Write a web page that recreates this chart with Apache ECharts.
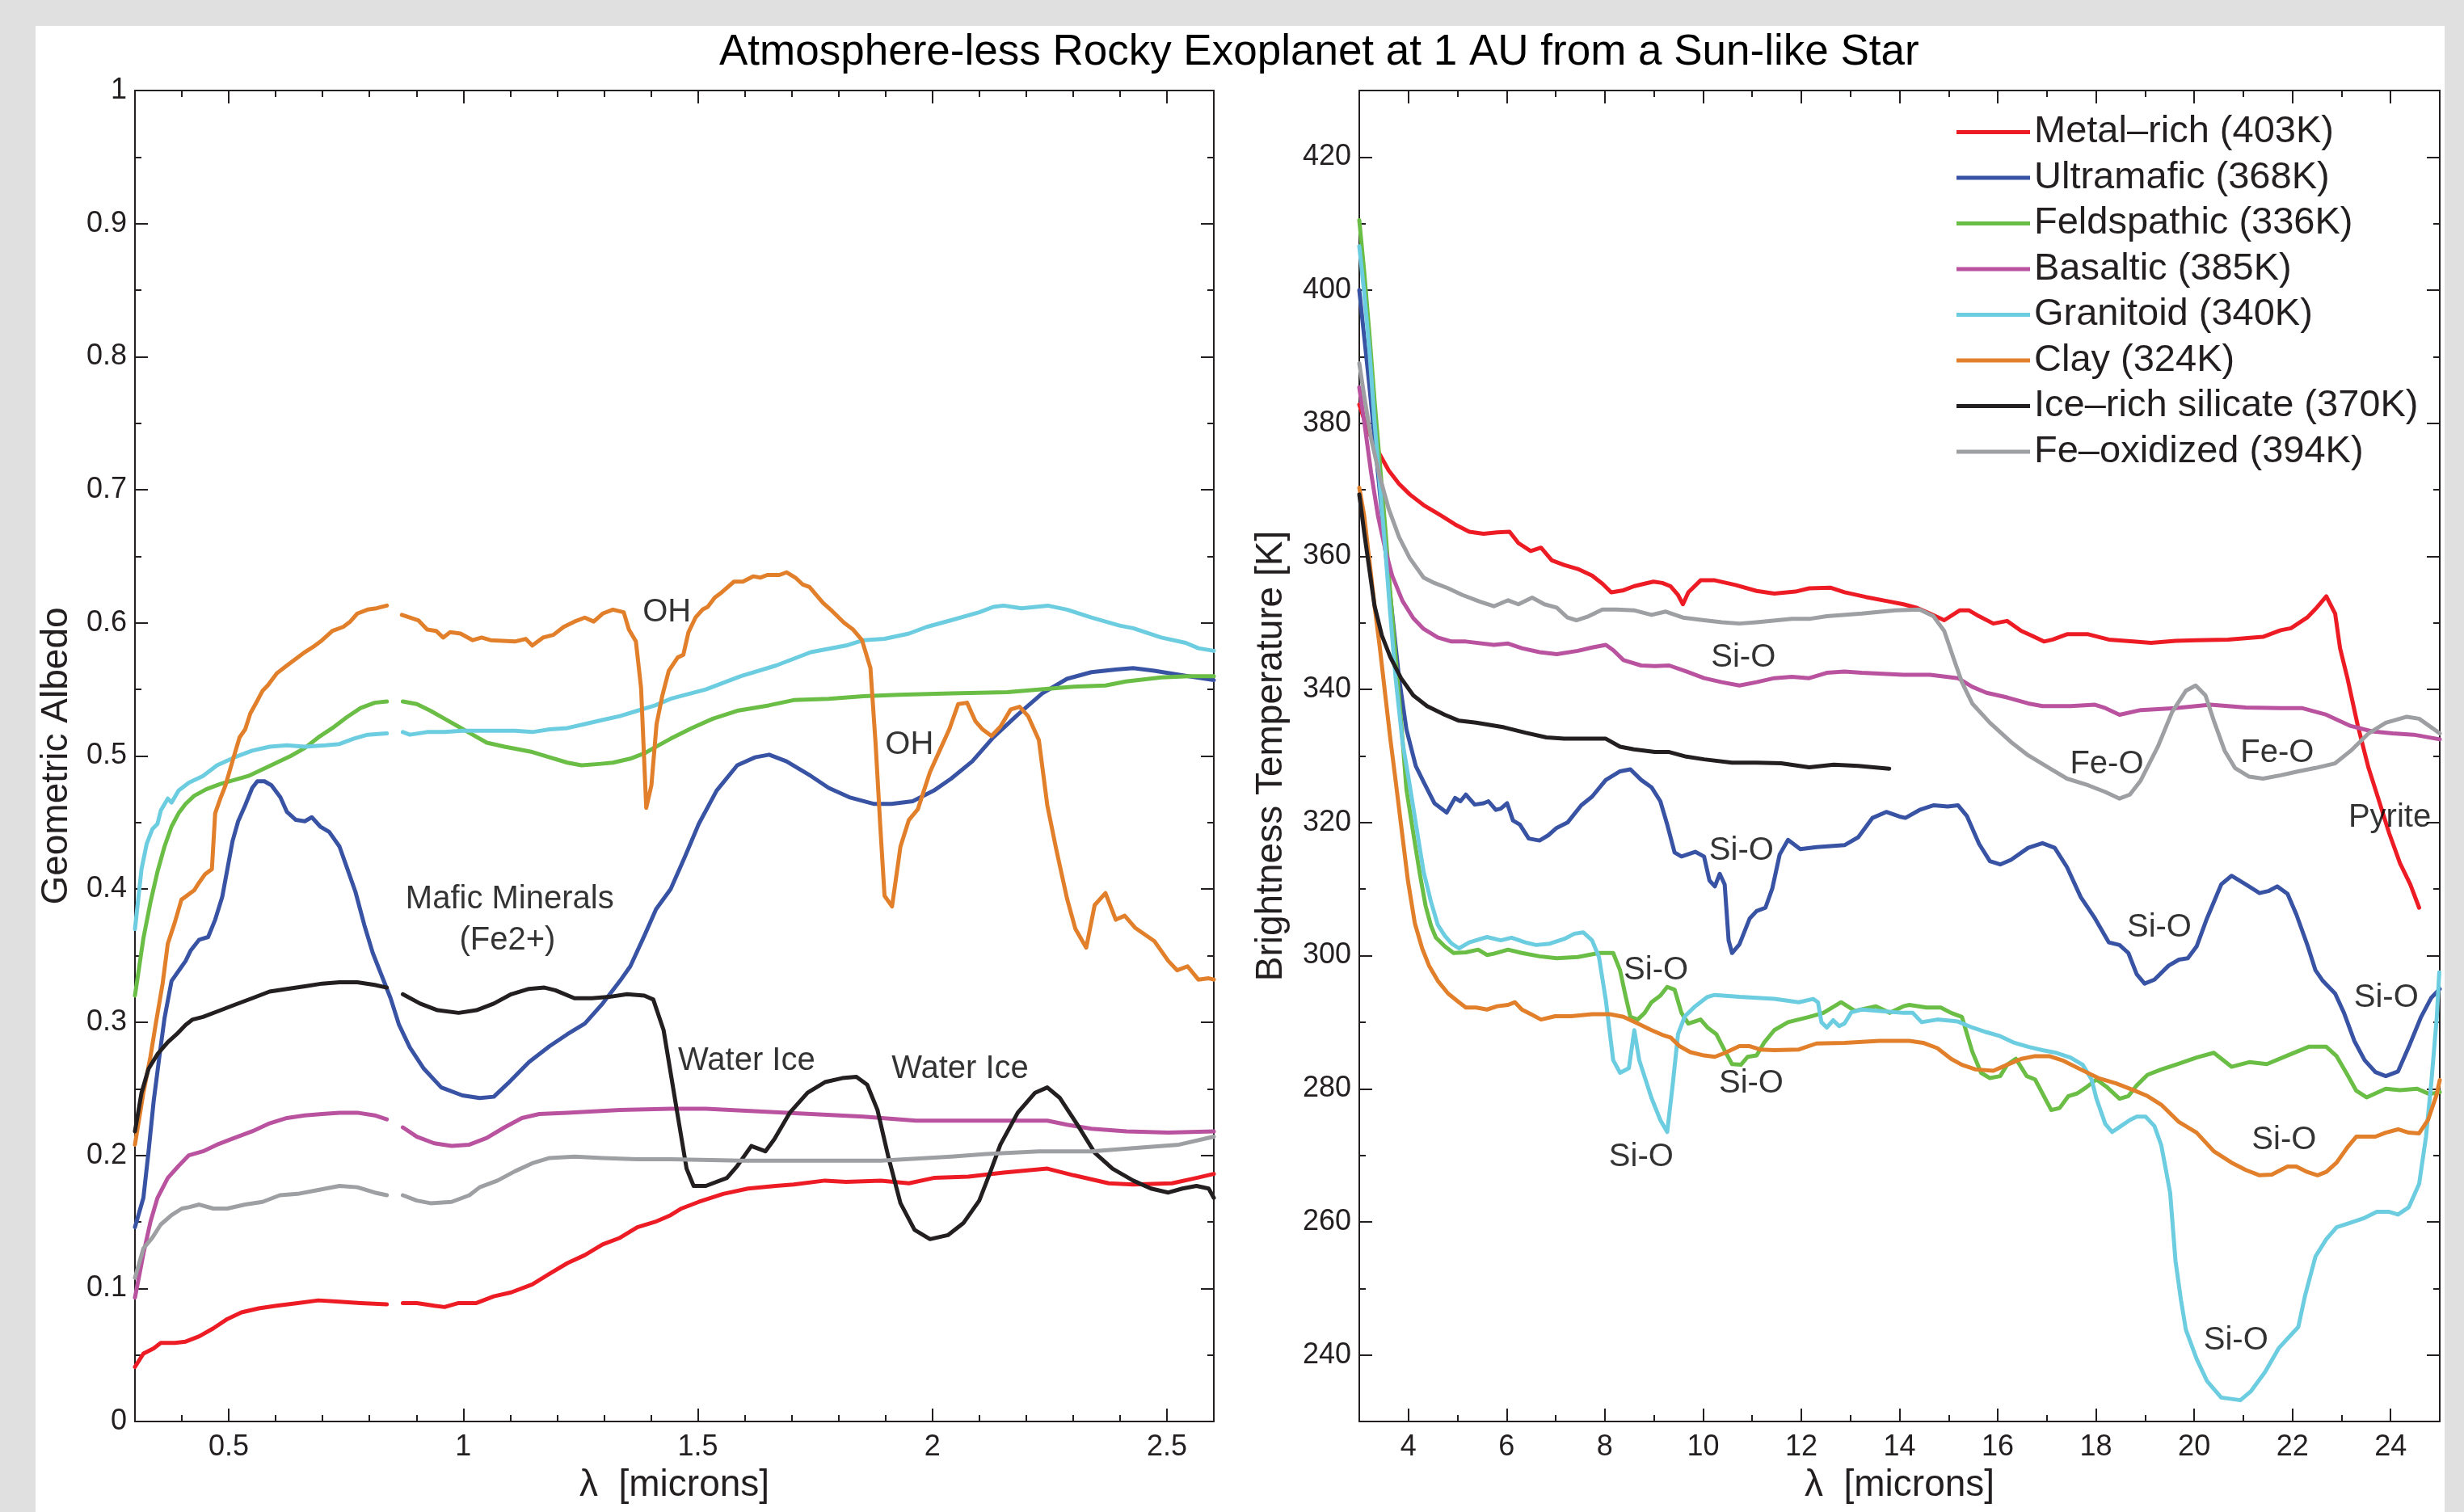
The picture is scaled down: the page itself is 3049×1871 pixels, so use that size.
<!DOCTYPE html>
<html>
<head>
	<meta charset="utf-8">
	<title>Atmosphere-less Rocky Exoplanet</title>
	<style>
		html, body { margin: 0; padding: 0; background: #e0e0e0; }
		#paper { position: absolute; left: 44px; top: 32px; width: 2981px; height: 1839px; background: #fff; }
		#main { position: absolute; left: 0; top: 0; width: 3049px; height: 1871px; }
	</style>
	<script src="https://cdn.jsdelivr.net/npm/echarts@6/dist/echarts.min.js"></script>
</head>
<body>
<div id="paper"></div>
<div id="main"></div>
<script>
	// 图例名称 / 颜色
	var names = ['Metal–rich (403K)', 'Ultramafic (368K)', 'Feldspathic (336K)', 'Basaltic (385K)',
		'Granitoid (340K)', 'Clay (324K)', 'Ice–rich silicate (370K)', 'Fe–oxidized (394K)']
	var colors = ['#ed1c24', '#3953a4', '#6abd45', '#b9529f', '#6dcde0', '#e27f2b', '#231f20', '#9d9fa2']

	// 刻度
	var albedoXTicks = [0.5, 1, 1.5, 2, 2.5]
	var albedoYTicks = [0, 0.1, 0.2, 0.3, 0.4, 0.5, 0.6, 0.7, 0.8, 0.9, 1]
	var tempXTicks = [4, 6, 8, 10, 12, 14, 16, 18, 20, 22, 24]
	var tempYTicks = [240, 260, 280, 300, 320, 340, 360, 380, 400, 420]

	// 左图: geometric albedo, [lambda, albedo], null = gap
	var redA = [[0.30,0.041],[0.318,0.051],[0.34,0.055],[0.355,0.059],[0.385,0.059],[0.408,0.060],[0.437,0.064],[0.467,0.070],[0.497,0.077],[0.527,0.082],[0.564,0.085],[0.602,0.087],[0.647,0.089],[0.691,0.091],[0.736,0.090],[0.781,0.089],[0.837,0.088],[0.853,null],[0.871,0.089],[0.901,0.089],[0.938,0.087],[0.960,0.086],[0.990,0.089],[1.028,0.089],[1.065,0.094],[1.102,0.097],[1.147,0.103],[1.184,0.111],[1.222,0.119],[1.259,0.125],[1.297,0.133],[1.334,0.138],[1.371,0.146],[1.409,0.150],[1.442,0.155],[1.465,0.160],[1.502,0.165],[1.554,0.171],[1.607,0.175],[1.666,0.177],[1.704,0.178],[1.771,0.181],[1.816,0.180],[1.890,0.181],[1.950,0.179],[2.003,0.183],[2.077,0.184],[2.152,0.187],[2.245,0.190],[2.301,0.185],[2.376,0.179],[2.428,0.178],[2.511,0.179],[2.563,0.183],[2.60,0.186]]
	var blueA = [[0.30,0.146],[0.318,0.168],[0.329,0.203],[0.340,0.241],[0.352,0.274],[0.363,0.303],[0.378,0.331],[0.396,0.340],[0.408,0.346],[0.419,0.354],[0.437,0.362],[0.456,0.364],[0.471,0.377],[0.486,0.394],[0.497,0.415],[0.508,0.436],[0.520,0.451],[0.535,0.463],[0.550,0.476],[0.561,0.481],[0.576,0.481],[0.591,0.478],[0.610,0.469],[0.624,0.458],[0.643,0.452],[0.662,0.451],[0.677,0.454],[0.695,0.447],[0.714,0.443],[0.736,0.432],[0.751,0.417],[0.770,0.398],[0.789,0.373],[0.807,0.352],[0.826,0.335],[0.845,0.318],[0.863,0.298],[0.886,0.281],[0.916,0.265],[0.953,0.251],[0.998,0.245],[1.035,0.243],[1.065,0.244],[1.095,0.254],[1.140,0.270],[1.184,0.282],[1.222,0.291],[1.259,0.299],[1.297,0.314],[1.334,0.331],[1.356,0.342],[1.386,0.365],[1.411,0.385],[1.442,0.400],[1.472,0.424],[1.502,0.449],[1.540,0.474],[1.584,0.493],[1.622,0.499],[1.652,0.501],[1.689,0.496],[1.741,0.485],[1.779,0.476],[1.823,0.469],[1.876,0.464],[1.913,0.464],[1.958,0.466],[2.003,0.474],[2.040,0.483],[2.085,0.496],[2.130,0.514],[2.182,0.531],[2.234,0.547],[2.287,0.558],[2.339,0.563],[2.391,0.565],[2.428,0.566],[2.473,0.564],[2.526,0.561],[2.60,0.557]]
	var greenA = [[0.30,0.320],[0.318,0.363],[0.333,0.390],[0.348,0.413],[0.363,0.432],[0.378,0.447],[0.393,0.457],[0.408,0.464],[0.426,0.470],[0.452,0.475],[0.482,0.479],[0.512,0.482],[0.542,0.485],[0.572,0.490],[0.602,0.495],[0.632,0.500],[0.662,0.506],[0.691,0.514],[0.721,0.521],[0.751,0.529],[0.781,0.536],[0.811,0.540],[0.837,0.541],[0.853,null],[0.871,0.541],[0.901,0.539],[0.930,0.534],[0.960,0.528],[0.990,0.522],[1.020,0.516],[1.050,0.510],[1.088,0.507],[1.147,0.503],[1.184,0.499],[1.222,0.495],[1.252,0.493],[1.289,0.494],[1.319,0.495],[1.356,0.498],[1.386,0.502],[1.416,0.508],[1.442,0.513],[1.487,0.521],[1.532,0.528],[1.584,0.534],[1.651,0.538],[1.704,0.542],[1.779,0.543],[1.853,0.545],[1.928,0.546],[2.040,0.547],[2.160,0.548],[2.227,0.550],[2.301,0.552],[2.369,0.553],[2.413,0.556],[2.488,0.559],[2.548,0.560],[2.60,0.560]]
	var magentaA = [[0.30,0.093],[0.318,0.126],[0.333,0.150],[0.348,0.168],[0.370,0.183],[0.393,0.192],[0.415,0.200],[0.445,0.203],[0.475,0.208],[0.512,0.213],[0.550,0.218],[0.587,0.224],[0.624,0.228],[0.662,0.230],[0.699,0.231],[0.736,0.232],[0.774,0.232],[0.811,0.230],[0.837,0.227],[0.853,null],[0.871,0.221],[0.901,0.214],[0.938,0.209],[0.975,0.207],[1.013,0.208],[1.050,0.213],[1.088,0.221],[1.125,0.228],[1.162,0.231],[1.222,0.232],[1.334,0.234],[1.442,0.235],[1.517,0.235],[1.629,0.233],[1.741,0.231],[1.853,0.229],[1.965,0.226],[2.115,0.226],[2.245,0.226],[2.287,0.223],[2.339,0.220],[2.414,0.218],[2.503,0.217],[2.60,0.218]]
	var cyanA = [[0.30,0.370],[0.314,0.415],[0.325,0.434],[0.337,0.445],[0.348,0.449],[0.355,0.459],[0.370,0.468],[0.378,0.465],[0.393,0.474],[0.415,0.480],[0.445,0.485],[0.475,0.493],[0.512,0.499],[0.550,0.504],[0.587,0.507],[0.624,0.508],[0.662,0.507],[0.706,0.508],[0.736,0.509],[0.766,0.513],[0.796,0.516],[0.837,0.517],[0.853,null],[0.871,0.518],[0.886,0.516],[0.923,0.518],[0.960,0.518],[0.998,0.519],[1.035,0.519],[1.110,0.519],[1.147,0.518],[1.184,0.520],[1.222,0.521],[1.259,0.524],[1.296,0.527],[1.334,0.530],[1.371,0.534],[1.409,0.538],[1.442,0.543],[1.517,0.550],[1.592,0.560],[1.667,0.568],[1.704,0.573],[1.741,0.578],[1.816,0.583],[1.853,0.587],[1.898,0.588],[1.950,0.592],[1.988,0.597],[2.040,0.602],[2.100,0.608],[2.130,0.612],[2.152,0.613],[2.190,0.611],[2.246,0.613],[2.287,0.610],[2.339,0.604],[2.399,0.598],[2.428,0.596],[2.488,0.589],[2.540,0.585],[2.567,0.581],[2.60,0.579]]
	var orangeA = [[0.30,0.208],[0.318,0.247],[0.333,0.274],[0.344,0.298],[0.359,0.329],[0.370,0.359],[0.385,0.375],[0.399,0.392],[0.426,0.399],[0.437,0.405],[0.449,0.411],[0.464,0.415],[0.471,0.457],[0.482,0.468],[0.493,0.478],[0.512,0.501],[0.523,0.514],[0.535,0.520],[0.546,0.532],[0.557,0.539],[0.572,0.549],[0.583,0.553],[0.602,0.562],[0.624,0.568],[0.639,0.572],[0.662,0.578],[0.680,0.582],[0.699,0.587],[0.721,0.594],[0.744,0.597],[0.759,0.601],[0.774,0.607],[0.796,0.610],[0.815,0.611],[0.837,0.613],[0.853,null],[0.869,0.606],[0.904,0.602],[0.923,0.595],[0.942,0.594],[0.957,0.589],[0.972,0.593],[0.994,0.592],[1.020,0.587],[1.039,0.589],[1.058,0.587],[1.110,0.586],[1.133,0.588],[1.147,0.583],[1.170,0.589],[1.192,0.591],[1.214,0.597],[1.237,0.601],[1.259,0.604],[1.278,0.601],[1.297,0.607],[1.319,0.610],[1.342,0.608],[1.353,0.595],[1.368,0.586],[1.379,0.551],[1.390,0.461],[1.401,0.478],[1.412,0.524],[1.424,0.545],[1.438,0.564],[1.457,0.574],[1.469,0.576],[1.480,0.593],[1.495,0.604],[1.510,0.610],[1.521,0.612],[1.536,0.619],[1.551,0.623],[1.577,0.631],[1.596,0.631],[1.618,0.635],[1.633,0.634],[1.648,0.636],[1.674,0.636],[1.689,0.638],[1.708,0.634],[1.723,0.629],[1.738,0.627],[1.767,0.615],[1.786,0.609],[1.812,0.600],[1.831,0.595],[1.850,0.587],[1.868,0.566],[1.879,0.509],[1.889,0.447],[1.898,0.395],[1.914,0.387],[1.932,0.432],[1.950,0.452],[1.969,0.460],[1.995,0.488],[2.018,0.506],[2.036,0.520],[2.055,0.539],[2.074,0.540],[2.092,0.526],[2.107,0.520],[2.126,0.515],[2.145,0.522],[2.167,0.535],[2.186,0.537],[2.204,0.530],[2.227,0.512],[2.245,0.463],[2.264,0.430],[2.287,0.393],[2.305,0.370],[2.328,0.356],[2.346,0.388],[2.369,0.397],[2.391,0.377],[2.410,0.380],[2.432,0.371],[2.473,0.361],[2.503,0.346],[2.522,0.339],[2.544,0.342],[2.567,0.332],[2.589,0.333],[2.60,0.332]]
	var blackA = [[0.30,0.218],[0.314,0.247],[0.329,0.265],[0.348,0.276],[0.370,0.285],[0.389,0.291],[0.408,0.298],[0.423,0.302],[0.445,0.304],[0.475,0.308],[0.512,0.313],[0.550,0.318],[0.587,0.323],[0.624,0.325],[0.662,0.327],[0.699,0.329],[0.736,0.330],[0.774,0.330],[0.811,0.328],[0.837,0.326],[0.853,null],[0.871,0.321],[0.908,0.314],[0.945,0.309],[0.990,0.307],[1.028,0.309],[1.065,0.314],[1.102,0.321],[1.140,0.325],[1.173,0.326],[1.196,0.324],[1.237,0.318],[1.274,0.318],[1.311,0.319],[1.349,0.321],[1.386,0.320],[1.405,0.317],[1.427,0.294],[1.442,0.262],[1.457,0.230],[1.476,0.190],[1.491,0.177],[1.517,0.177],[1.562,0.183],[1.584,0.192],[1.614,0.207],[1.644,0.203],[1.663,0.212],[1.696,0.232],[1.734,0.247],[1.771,0.255],[1.808,0.258],[1.838,0.259],[1.861,0.253],[1.883,0.234],[1.906,0.199],[1.932,0.164],[1.962,0.144],[1.995,0.137],[2.033,0.140],[2.066,0.149],[2.100,0.166],[2.122,0.186],[2.145,0.208],[2.182,0.232],[2.219,0.247],[2.245,0.251],[2.272,0.243],[2.309,0.223],[2.346,0.202],[2.384,0.190],[2.428,0.181],[2.466,0.175],[2.503,0.172],[2.533,0.175],[2.563,0.177],[2.589,0.175],[2.60,0.168]]
	var grayA = [[0.30,0.108],[0.318,0.130],[0.337,0.138],[0.355,0.148],[0.378,0.155],[0.400,0.160],[0.415,0.161],[0.437,0.163],[0.467,0.160],[0.497,0.160],[0.535,0.163],[0.572,0.165],[0.609,0.170],[0.647,0.171],[0.691,0.174],[0.736,0.177],[0.774,0.176],[0.811,0.172],[0.837,0.170],[0.853,null],[0.871,0.170],[0.901,0.166],[0.930,0.164],[0.975,0.165],[1.013,0.170],[1.035,0.176],[1.073,0.181],[1.110,0.188],[1.147,0.194],[1.184,0.198],[1.237,0.199],[1.297,0.198],[1.371,0.197],[1.442,0.197],[1.592,0.196],[1.741,0.196],[1.890,0.196],[2.040,0.199],[2.115,0.201],[2.227,0.203],[2.339,0.203],[2.451,0.206],[2.526,0.208],[2.60,0.214]]

	// 右图: brightness temperature, [lambda, K]
	var redT = [[3.0,382.8],[3.17,379.0],[3.38,375.8],[3.60,372.9],[3.81,370.9],[4.03,369.3],[4.31,367.7],[4.67,366.1],[4.95,364.8],[5.24,363.7],[5.53,363.4],[5.81,363.6],[6.06,363.7],[6.24,362.0],[6.49,360.8],[6.70,361.3],[6.92,359.4],[7.17,358.7],[7.45,358.1],[7.74,357.1],[7.95,355.9],[8.13,354.6],[8.38,354.9],[8.59,355.5],[8.81,355.9],[8.99,356.2],[9.17,356.0],[9.34,355.5],[9.49,354.2],[9.59,352.8],[9.70,354.6],[9.95,356.4],[10.24,356.4],[10.66,355.7],[11.09,354.8],[11.45,354.4],[11.88,354.7],[12.16,355.2],[12.59,355.3],[12.88,354.6],[13.31,353.9],[13.73,353.3],[14.08,352.8],[14.34,352.3],[14.62,351.4],[14.91,350.4],[15.23,351.9],[15.41,351.9],[15.62,351.0],[15.91,349.9],[16.19,350.3],[16.48,348.8],[16.69,348.1],[16.94,347.2],[17.12,347.5],[17.41,348.3],[17.84,348.3],[18.26,347.5],[18.76,347.2],[19.12,347.0],[19.62,347.3],[20.05,347.4],[20.69,347.5],[21.19,347.8],[21.40,347.9],[21.76,348.9],[21.97,349.2],[22.30,350.8],[22.47,352.1],[22.69,354.0],[22.87,351.4],[22.97,346.2],[23.12,341.7],[23.33,334.6],[23.55,328.2],[23.74,323.8],[23.97,318.4],[24.19,313.9],[24.40,310.7],[24.58,307.2]]
	var blueT = [[3.0,400.0],[3.2,386.0],[3.4,371.0],[3.53,361.0],[3.67,351.4],[3.81,341.7],[3.96,334.0],[4.15,328.5],[4.31,326.1],[4.53,322.9],[4.78,321.5],[4.95,323.7],[5.06,323.2],[5.17,324.2],[5.35,322.7],[5.53,322.9],[5.63,323.2],[5.78,321.9],[5.88,322.1],[6.01,322.9],[6.13,320.3],[6.27,319.7],[6.45,317.6],[6.67,317.3],[6.85,318.1],[7.02,319.2],[7.24,320.0],[7.52,322.6],[7.74,323.9],[8.02,326.4],[8.31,327.7],[8.52,328.0],[8.74,326.4],[8.95,325.3],[9.13,323.2],[9.27,319.7],[9.42,315.5],[9.56,314.9],[9.84,315.6],[10.02,314.9],[10.13,311.3],[10.24,310.4],[10.34,312.3],[10.44,310.7],[10.52,302.3],[10.59,300.4],[10.74,301.7],[10.95,305.6],[11.09,306.7],[11.27,307.2],[11.41,310.1],[11.56,315.2],[11.73,317.4],[11.98,316.0],[12.31,316.3],[12.88,316.6],[13.16,317.8],[13.45,320.7],[13.73,321.6],[14.00,320.9],[14.12,320.7],[14.41,321.9],[14.70,322.6],[14.98,322.4],[15.19,322.6],[15.37,321.0],[15.62,316.8],[15.84,314.2],[16.05,313.7],[16.27,314.4],[16.62,316.2],[16.91,316.9],[17.16,316.2],[17.41,313.3],[17.69,308.8],[17.98,305.6],[18.26,302.0],[18.48,301.6],[18.66,300.4],[18.83,297.2],[18.99,295.8],[19.19,296.4],[19.48,298.5],[19.69,299.4],[19.87,299.6],[20.05,301.4],[20.26,305.6],[20.55,310.7],[20.76,312.0],[21.05,310.7],[21.33,309.4],[21.51,309.7],[21.69,310.4],[21.90,309.3],[22.08,306.2],[22.30,301.7],[22.47,297.8],[22.62,296.2],[22.87,294.3],[23.05,291.4],[23.26,287.2],[23.47,284.3],[23.69,282.5],[23.90,281.9],[24.15,282.6],[24.37,286.3],[24.62,290.8],[24.83,293.7],[25.0,295.0]]
	var greenT = [[3.0,410.5],[3.10,402.8],[3.21,393.1],[3.31,383.5],[3.42,373.9],[3.53,364.2],[3.63,354.6],[3.74,344.9],[3.85,335.3],[3.96,325.0],[4.13,317.0],[4.24,312.0],[4.35,307.5],[4.46,304.5],[4.56,302.7],[4.74,301.4],[4.92,300.4],[5.17,300.5],[5.42,300.9],[5.60,300.1],[5.74,300.3],[6.03,300.9],[6.31,300.4],[6.67,299.9],[7.02,299.6],[7.45,299.8],[7.88,300.4],[8.17,300.4],[8.31,297.8],[8.42,294.0],[8.52,290.8],[8.67,290.4],[8.81,291.4],[8.95,293.0],[9.13,294.0],[9.27,295.3],[9.42,294.9],[9.56,291.4],[9.70,289.8],[9.95,290.4],[10.09,289.2],[10.27,288.2],[10.45,285.6],[10.59,283.7],[10.77,283.6],[10.91,284.8],[11.09,285.0],[11.24,286.9],[11.45,288.8],[11.73,290.0],[12.16,290.8],[12.45,291.4],[12.81,293.0],[13.09,291.7],[13.52,292.4],[13.80,291.4],[14.08,292.4],[14.20,292.6],[14.55,292.2],[14.84,292.2],[15.05,291.4],[15.27,290.8],[15.48,285.6],[15.66,282.4],[15.84,281.6],[16.05,281.9],[16.19,283.6],[16.37,284.5],[16.59,281.9],[16.76,281.4],[17.09,276.8],[17.26,277.1],[17.44,278.9],[17.62,279.3],[17.80,280.2],[18.01,281.4],[18.23,280.2],[18.48,278.5],[18.66,278.9],[18.83,280.5],[19.05,282.1],[19.33,282.9],[19.62,283.6],[20.05,284.7],[20.40,285.4],[20.76,283.3],[21.12,284.0],[21.48,283.7],[21.90,285.0],[22.33,286.3],[22.69,286.3],[22.90,284.9],[23.12,282.1],[23.30,279.7],[23.51,278.7],[23.90,280.0],[24.19,279.8],[24.54,280.0],[24.79,279.2],[25.0,279.5]]
	var magentaT = [[3.0,385.4],[3.10,380.3],[3.24,372.6],[3.38,366.1],[3.53,361.0],[3.67,357.1],[3.88,353.3],[4.10,350.7],[4.31,349.1],[4.60,347.8],[4.88,347.2],[5.17,347.2],[5.74,346.7],[6.03,346.9],[6.31,346.2],[6.67,345.6],[7.02,345.3],[7.45,345.8],[7.74,346.3],[8.02,346.7],[8.17,345.9],[8.38,344.4],[8.74,343.6],[9.02,343.5],[9.31,343.6],[9.66,342.7],[10.02,341.7],[10.38,341.1],[10.74,340.6],[11.09,341.1],[11.45,341.7],[11.81,341.9],[12.16,341.7],[12.52,342.5],[12.88,342.7],[13.23,342.5],[14.08,342.2],[14.62,342.2],[15.19,341.7],[15.48,340.4],[15.77,339.5],[16.19,338.8],[16.62,337.9],[16.91,337.5],[17.48,337.5],[17.98,337.7],[18.19,337.2],[18.48,336.2],[18.91,336.9],[19.62,337.2],[20.33,337.7],[21.05,337.3],[21.76,337.2],[22.19,337.2],[22.69,336.2],[23.19,334.5],[23.62,333.7],[24.04,333.4],[24.47,333.2],[25.0,332.5]]
	var cyanT = [[3.0,406.6],[3.10,399.6],[3.21,390.6],[3.31,380.3],[3.42,370.6],[3.53,361.0],[3.63,351.4],[3.74,341.7],[3.88,332.1],[4.03,325.5],[4.17,319.0],[4.31,312.6],[4.46,308.1],[4.60,304.6],[4.74,303.0],[4.88,301.8],[5.03,301.1],[5.24,302.0],[5.60,302.8],[5.88,302.3],[6.10,302.7],[6.38,302.0],[6.60,301.6],[6.88,301.8],[7.17,302.5],[7.38,303.3],[7.56,303.5],[7.74,302.3],[7.88,299.8],[8.02,293.3],[8.17,284.3],[8.31,282.4],[8.49,283.1],[8.60,288.8],[8.70,284.3],[8.95,278.6],[9.13,275.3],[9.27,273.5],[9.38,280.5],[9.49,288.2],[9.63,290.9],[9.84,292.4],[10.09,293.8],[10.24,294.1],[10.74,293.8],[11.45,293.5],[11.95,293.0],[12.24,293.5],[12.34,293.0],[12.41,290.0],[12.52,289.2],[12.65,290.3],[12.77,289.4],[12.88,289.8],[13.02,291.5],[13.23,291.9],[13.59,291.7],[14.08,291.4],[14.27,291.4],[14.45,290.0],[14.77,290.4],[15.19,290.1],[15.48,289.2],[15.77,288.5],[16.05,287.9],[16.34,286.9],[16.62,286.3],[16.91,285.8],[17.19,285.4],[17.48,284.7],[17.73,283.6],[17.91,281.4],[18.01,278.5],[18.19,274.7],[18.33,273.5],[18.51,274.4],[18.69,275.3],[18.83,275.8],[19.01,275.8],[19.19,274.4],[19.33,271.5],[19.51,264.4],[19.62,254.1],[19.73,248.3],[19.83,243.8],[20.05,239.4],[20.26,236.1],[20.55,233.6],[20.94,233.2],[21.15,234.5],[21.44,237.4],[21.72,241.0],[22.12,244.2],[22.26,249.0],[22.47,254.8],[22.69,257.4],[22.90,259.2],[23.19,259.9],[23.47,260.6],[23.72,261.5],[23.97,261.5],[24.15,261.1],[24.37,262.2],[24.58,265.7],[24.72,272.8],[24.83,281.1],[24.94,290.8],[24.99,297.5]]
	var orangeT = [[3.0,370.3],[3.10,366.1],[3.21,359.1],[3.31,352.6],[3.42,346.2],[3.53,339.1],[3.63,332.7],[3.74,326.3],[3.85,319.7],[3.99,311.3],[4.13,304.9],[4.28,301.1],[4.42,298.5],[4.60,296.2],[4.81,294.3],[5.03,293.0],[5.17,292.2],[5.38,292.2],[5.60,291.9],[5.81,292.4],[6.03,292.6],[6.17,293.0],[6.31,291.9],[6.52,291.1],[6.70,290.4],[6.99,290.9],[7.31,290.9],[7.74,291.2],[8.10,291.2],[8.38,290.8],[8.67,289.8],[8.95,288.8],[9.17,288.1],[9.34,287.7],[9.52,286.4],[9.74,285.5],[10.02,285.0],[10.24,284.8],[10.45,285.4],[10.74,286.4],[10.95,286.4],[11.16,285.9],[11.45,285.8],[11.95,285.9],[12.31,286.8],[12.88,286.9],[13.59,287.2],[14.20,287.2],[14.48,286.9],[14.77,286.1],[15.05,284.5],[15.27,283.6],[15.55,282.9],[15.91,282.7],[16.19,283.6],[16.48,284.5],[16.76,284.9],[17.05,284.9],[17.34,284.2],[17.69,282.9],[18.05,281.6],[18.41,280.8],[18.76,279.8],[19.05,278.9],[19.33,277.6],[19.69,275.0],[20.05,273.4],[20.40,270.6],[20.76,268.9],[21.05,267.8],[21.33,267.0],[21.58,267.1],[21.90,268.3],[22.08,268.3],[22.30,267.5],[22.51,267.0],[22.69,267.5],[22.90,268.9],[23.12,271.2],[23.30,272.8],[23.69,272.8],[23.90,273.4],[24.15,273.9],[24.37,273.4],[24.58,273.3],[24.76,275.3],[24.94,279.2],[25.0,281.3]]
	var blackT = [[3.0,369.3],[3.10,363.6],[3.21,357.8],[3.31,352.6],[3.46,348.1],[3.63,344.9],[3.85,341.7],[4.10,339.1],[4.38,337.5],[4.74,336.2],[5.03,335.3],[5.38,335.0],[5.95,334.3],[6.38,333.5],[6.81,332.8],[7.17,332.6],[7.52,332.6],[8.02,332.6],[8.31,331.4],[8.59,331.0],[9.02,330.6],[9.31,330.6],[9.66,329.9],[10.02,329.5],[10.59,329.0],[11.09,329.0],[11.59,328.9],[12.16,328.3],[12.66,328.7],[13.16,328.5],[13.79,328.1]]
	var grayT = [[3.0,389.0],[3.10,384.1],[3.24,377.7],[3.42,371.9],[3.60,367.1],[3.81,362.9],[4.03,359.7],[4.31,356.8],[4.53,356.0],[4.81,355.2],[5.10,354.2],[5.45,353.2],[5.74,352.5],[6.03,353.4],[6.24,352.8],[6.52,353.8],[6.77,352.8],[7.02,352.3],[7.24,350.8],[7.42,350.4],[7.67,351.0],[7.95,352.0],[8.24,352.0],[8.59,351.9],[8.95,351.2],[9.24,351.7],[9.59,350.8],[10.02,350.4],[10.38,350.1],[10.74,349.9],[11.09,350.1],[11.81,350.6],[12.16,350.6],[12.52,351.0],[13.23,351.4],[13.91,351.9],[14.41,352.0],[14.69,351.0],[14.91,348.8],[15.09,344.9],[15.27,341.1],[15.48,337.9],[15.84,335.0],[16.27,332.1],[16.62,330.1],[16.98,328.5],[17.41,326.6],[17.84,325.6],[18.19,324.6],[18.48,323.6],[18.69,324.2],[18.91,326.3],[19.26,331.4],[19.55,336.6],[19.83,339.8],[20.03,340.6],[20.23,339.1],[20.40,335.3],[20.62,330.8],[20.83,328.2],[21.12,326.9],[21.40,326.6],[21.76,327.1],[22.12,327.7],[22.47,328.2],[22.87,328.9],[23.19,330.8],[23.55,333.4],[23.90,335.0],[24.33,335.9],[24.58,335.6],[24.83,334.3],[25.0,333.4]]

	// 注释文字 [lambda, value, text]
	var albedoNotes = [[1.434, 0.608, 'OH'], [1.951, 0.508, 'OH'], [1.099, 0.392, 'Mafic Minerals'], [1.094, 0.361, '(Fe2+)'],
		[1.604, 0.271, 'Water Ice'], [2.059, 0.265, 'Water Ice']]
	var tempNotes = [[10.82, 344.8, 'Si-O'], [18.22, 328.7, 'Fe-O'], [21.69, 330.4, 'Fe-O'], [23.98, 320.7, 'Pyrite'],
		[10.78, 315.7, 'Si-O'], [9.04, 297.8, 'Si-O'], [10.98, 280.8, 'Si-O'], [8.74, 269.7, 'Si-O'],
		[19.29, 304.2, 'Si-O'], [23.91, 293.6, 'Si-O'], [21.83, 272.3, 'Si-O'], [20.85, 242.1, 'Si-O']]

	var albedoSets = [redA, blueA, greenA, magentaA, cyanA, orangeA, blackA, grayA]
	var tempSets = [redT, blueT, greenT, magentaT, cyanT, orangeT, blackT, grayT]

	var FONT = '"Liberation Sans", Arial, Helvetica, sans-serif'
	var INK = '#231f20'

	function tickFmt(majors) {
		return function (v) {
			for (var i = 0; i < majors.length; i++) {
				if (Math.abs(majors[i] - v) < 1e-6) return String(majors[i])
			}
			return ''
		}
	}

	// 一组轴: 短刻度(带轴线和标签) + 长刻度(主刻度)
	function axisPair(gridIndex, position, min, max, step, majors, showLabel, name, nameGap) {
		var minor = {
			type: 'value', gridIndex: gridIndex, position: position, min: min, max: max, interval: step,
			axisLine: { show: true, onZero: false, lineStyle: { color: INK, width: 2 } },
			axisTick: { show: true, inside: true, length: 8, lineStyle: { color: INK, width: 2 } },
			axisLabel: { show: showLabel, margin: (position == 'bottom' ? 14 : 10), fontSize: 36, fontFamily: FONT, color: INK,
				formatter: tickFmt(majors), showMinLabel: true, showMaxLabel: true },
			splitLine: { show: false }
		}
		if (name) {
			minor.name = name
			minor.nameLocation = 'middle'
			minor.nameGap = nameGap
			minor.nameTextStyle = { fontSize: 46, fontFamily: FONT, color: INK }
		}
		var major = {
			type: 'value', gridIndex: gridIndex, position: position, min: min, max: max,
			axisLine: { show: false, onZero: false },
			axisTick: { show: true, inside: true, length: 16, customValues: majors, lineStyle: { color: INK, width: 2 } },
			axisLabel: { show: false },
			splitLine: { show: false }
		}
		return [minor, major]
	}

	var xAxes = [].concat(
		axisPair(0, 'bottom', 0.3, 2.6, 0.1, albedoXTicks, true, 'λ  [microns]', 56),
		axisPair(0, 'top', 0.3, 2.6, 0.1, albedoXTicks, false),
		axisPair(1, 'bottom', 3, 25, 1, tempXTicks, true, 'λ  [microns]', 56),
		axisPair(1, 'top', 3, 25, 1, tempXTicks, false)
	)
	var yAxes = [].concat(
		axisPair(0, 'left', 0, 1, 0.05, albedoYTicks, true, 'Geometric Albedo', 74),
		axisPair(0, 'right', 0, 1, 0.05, albedoYTicks, false),
		axisPair(1, 'left', 230, 430, 10, tempYTicks, true, 'Brightness Temperature [K]', 86),
		axisPair(1, 'right', 230, 430, 10, tempYTicks, false)
	)

	function toLine(d) {
		return d.map(function (p) { return [p[0], p[1] === null ? '-' : p[1]] })
	}

	var series = []
	for (var i = 0; i < names.length; i++) {
		series.push({
			name: names[i], type: 'line', xAxisIndex: 0, yAxisIndex: 0, data: toLine(albedoSets[i]),
			showSymbol: false, symbol: 'none', connectNulls: false,
			lineStyle: { color: colors[i], width: 5, join: 'round', cap: 'round' }, itemStyle: { color: colors[i] }
		})
	}
	for (var i = 0; i < names.length; i++) {
		series.push({
			name: names[i], type: 'line', xAxisIndex: 4, yAxisIndex: 4, data: toLine(tempSets[i]),
			showSymbol: false, symbol: 'none',
			lineStyle: { color: colors[i], width: 5, join: 'round', cap: 'round' }, itemStyle: { color: colors[i] }
		})
	}
	function noteSeries(notes, xi, yi) {
		return {
			type: 'scatter', xAxisIndex: xi, yAxisIndex: yi, silent: true, z: 5,
			symbolSize: 1, itemStyle: { color: 'rgba(0,0,0,0)' },
			data: notes.map(function (n) { return { name: n[2], value: [n[0], n[1]] } }),
			label: { show: true, position: 'inside', formatter: '{b}', fontSize: 40, fontFamily: FONT, color: '#000' }
		}
	}
	series.push(noteSeries(albedoNotes, 0, 0))
	series.push(noteSeries(tempNotes, 4, 4))

	var option = {
		animation: false,
		title: {
			text: 'Atmosphere-less Rocky Exoplanet at 1 AU from a Sun-like Star',
			left: 890, top: 39, padding: 0,
			textStyle: { fontSize: 53, fontWeight: 'normal', fontFamily: FONT, color: '#000' }
		},
		legend: {
			data: names, orient: 'vertical', left: 2421, top: 140, padding: 0,
			itemGap: 9.5, itemWidth: 91, itemHeight: 5, icon: 'rect', selectedMode: false,
			textStyle: { fontSize: 47, lineHeight: 47, fontFamily: FONT, color: INK }
		},
		grid: [
			{ left: 167, top: 112, width: 1335, height: 1647 },
			{ left: 1682, top: 112, width: 1337, height: 1647 }
		],
		xAxis: xAxes,
		yAxis: yAxes,
		series: series
	}

	var myChart = echarts.init(document.getElementById('main'))
	myChart.setOption(option)
</script>
</body>
</html>
